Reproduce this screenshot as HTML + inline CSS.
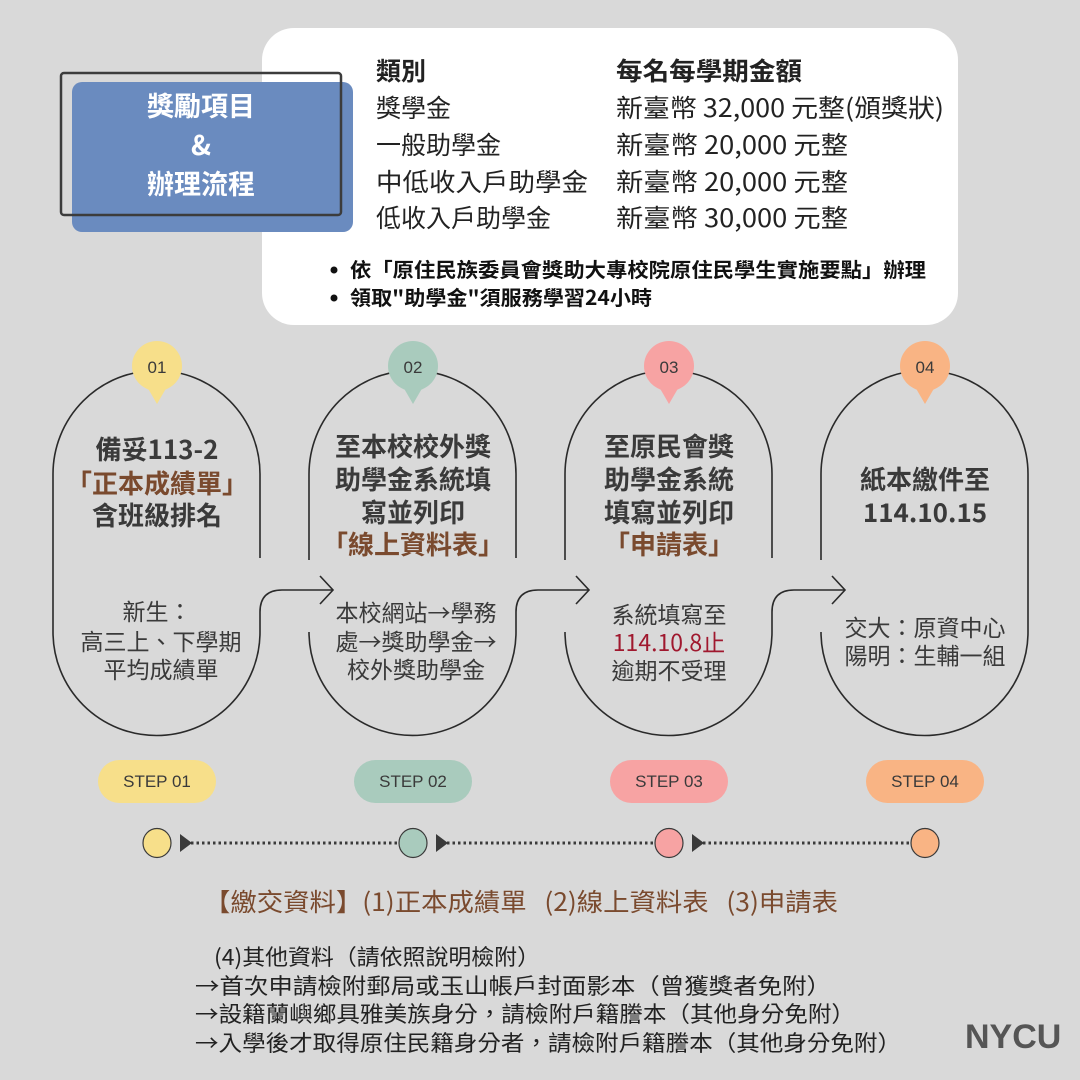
<!DOCTYPE html>
<html><head><meta charset="utf-8"><style>
html,body{margin:0;padding:0;background:#d9d9d9;}
svg{display:block;}
text{font-family:"Noto Sans CJK TC","Liberation Sans",sans-serif;}
.l{font-family:"Liberation Sans","Noto Sans CJK TC",sans-serif;}
</style></head><body>
<svg width="1080" height="1080" viewBox="0 0 1080 1080" xmlns="http://www.w3.org/2000/svg">
<rect width="1080" height="1080" fill="#d9d9d9"/>
<rect x="262" y="28" width="696" height="297" rx="32" fill="#ffffff"/>
<rect x="72" y="82" width="281" height="150" rx="10" fill="#6a8bbf"/>
<rect x="61" y="73" width="280" height="142" rx="3" fill="none" stroke="#3c3c3c" stroke-width="2.5"/>
<g fill="#fff" font-weight="bold" font-size="27" text-anchor="middle">
<text x="201" y="116">獎勵項目</text><text x="201" y="155">&amp;</text><text x="201" y="194">辦理流程</text>
</g>
<g fill="#222" font-size="25">
<text x="376" y="80" font-weight="bold">類別</text><text x="616" y="80" font-weight="bold" textLength="186" lengthAdjust="spacingAndGlyphs">每名每學期金額</text>
<text x="376" y="117">獎學金</text><text x="616" y="117" textLength="328" lengthAdjust="spacingAndGlyphs">新臺幣 32,000 元整(頒獎狀)</text>
<text x="376" y="154">一般助學金</text><text x="616" y="154" textLength="232" lengthAdjust="spacingAndGlyphs">新臺幣 20,000 元整</text>
<text x="376" y="191" textLength="212" lengthAdjust="spacingAndGlyphs">中低收入戶助學金</text><text x="616" y="191" textLength="232" lengthAdjust="spacingAndGlyphs">新臺幣 20,000 元整</text>
<text x="376" y="227">低收入戶助學金</text><text x="616" y="227" textLength="232" lengthAdjust="spacingAndGlyphs">新臺幣 30,000 元整</text>
</g>
<g fill="#111" font-size="20" font-weight="bold">
<circle cx="334" cy="270" r="3.5"/><circle cx="334" cy="298" r="3.5"/>
<text x="350" y="277" textLength="576" lengthAdjust="spacingAndGlyphs">依「原住民族委員會獎助大專校院原住民學生實施要點」辦理</text>
<text x="350" y="305" textLength="302" lengthAdjust="spacingAndGlyphs">領取"助學金"須服務學習24小時</text>
</g>
<g fill="none" stroke="#2a2a2a" stroke-width="1.6">
<path d="M260 558 L260 474 A103.5 103.5 0 0 0 53 474 L53 632 A103.5 103.5 0 0 0 260 632 L260 612 Q260 590 282 590 L333 590"/>
<path d="M320 576 L333 590 L320 604"/>
<path d="M309 560 L309 474 A103.5 103.5 0 0 1 516 474 L516 558"/>
<path d="M309 632 A103.5 103.5 0 0 0 516 632 L516 612 Q516 590 538 590 L589 590"/>
<path d="M576 576 L589 590 L576 604"/>
<path d="M565 560 L565 474 A103.5 103.5 0 0 1 772 474 L772 558"/>
<path d="M565 632 A103.5 103.5 0 0 0 772 632 L772 612 Q772 590 794 590 L845 590"/>
<path d="M832 576 L845 590 L832 604"/>
<path d="M821 560 L821 474 A103.5 103.5 0 0 1 1028 474 L1028 632 A103.5 103.5 0 0 1 821 632"/>
</g>
<g>
<circle cx="157" cy="366" r="25" fill="#f7df8a"/><path d="M146 385 L157 404 L168 385Z" fill="#f7df8a"/>
<circle cx="413" cy="366" r="25" fill="#a9cbbd"/><path d="M402 385 L413 404 L424 385Z" fill="#a9cbbd"/>
<circle cx="669" cy="366" r="25" fill="#f7a3a3"/><path d="M658 385 L669 404 L680 385Z" fill="#f7a3a3"/>
<circle cx="925" cy="366" r="25" fill="#f9b484"/><path d="M914 385 L925 404 L936 385Z" fill="#f9b484"/>
</g>
<g fill="#3a3a3a" font-size="17" text-anchor="middle" class="l">
<text class="l" x="157" y="373">01</text><text class="l" x="413" y="373">02</text><text class="l" x="669" y="373">03</text><text class="l" x="925" y="373">04</text>
</g>
<g font-size="26" font-weight="bold" text-anchor="middle" fill="#3a3a3a">
<text x="157" y="459">備妥113-2</text>
<text x="157" y="493" fill="#7a4a2e">「正本成績單」</text>
<text x="157" y="525">含班級排名</text>
<text x="413" y="456">至本校校外獎</text>
<text x="413" y="489">助學金系統填</text>
<text x="413" y="522">寫並列印</text>
<text x="413" y="554" fill="#7a4a2e">「線上資料表」</text>
<text x="669" y="456">至原民會獎</text>
<text x="669" y="489">助學金系統</text>
<text x="669" y="522">填寫並列印</text>
<text x="669" y="554" fill="#7a4a2e">「申請表」</text>
<text x="925" y="489">紙本繳件至</text>
<text x="925" y="522">114.10.15</text>
</g>
<g font-size="23" text-anchor="middle" fill="#3a3a3a">
<text x="157" y="620">新生：</text><text x="161" y="650">高三上、下學期</text><text x="161" y="678">平均成績單</text>
<text x="416" y="621">本校網站→學務</text><text x="416" y="650">處→獎助學金→</text><text x="416" y="678">校外獎助學金</text>
<text x="669" y="623">系統填寫至</text><text x="669" y="651" fill="#a0182e">114.10.8止</text><text x="669" y="679">逾期不受理</text>
<text x="925" y="636">交大：原資中心</text><text x="925" y="664">陽明：生輔一組</text>
</g>
<g>
<rect x="98" y="760" width="118" height="43" rx="21.5" fill="#f7df8a"/>
<rect x="354" y="760" width="118" height="43" rx="21.5" fill="#a9cbbd"/>
<rect x="610" y="760" width="118" height="43" rx="21.5" fill="#f7a3a3"/>
<rect x="866" y="760" width="118" height="43" rx="21.5" fill="#f9b484"/>
</g>
<g font-size="17" text-anchor="middle" fill="#3a3a3a">
<text class="l" x="157" y="787">STEP 01</text><text class="l" x="413" y="787">STEP 02</text><text class="l" x="669" y="787">STEP 03</text><text class="l" x="925" y="787">STEP 04</text>
</g>
<g stroke="#3a3a3a" stroke-width="3" stroke-dasharray="2.5 3">
<line x1="180" y1="843" x2="398" y2="843"/><line x1="436" y1="843" x2="654" y2="843"/><line x1="692" y1="843" x2="910" y2="843"/>
</g>
<g fill="#3a3a3a">
<path d="M180 834 L192 843 L180 852Z"/><path d="M436 834 L448 843 L436 852Z"/><path d="M692 834 L704 843 L692 852Z"/>
</g>
<g stroke="#3a3a3a" stroke-width="1.2">
<ellipse cx="157" cy="843" rx="14" ry="14.5" fill="#f7df8a"/>
<ellipse cx="413" cy="843" rx="14" ry="14.5" fill="#a9cbbd"/>
<ellipse cx="669" cy="843" rx="14" ry="14.5" fill="#f7a3a3"/>
<ellipse cx="925" cy="843" rx="14" ry="14.5" fill="#f9b484"/>
</g>
<text x="204" y="911" font-size="25" fill="#7a4a2e" xml:space="preserve" textLength="634" lengthAdjust="spacingAndGlyphs">【繳交資料】(1)正本成績單   (2)線上資料表   (3)申請表</text>
<g font-size="22" fill="#222">
<text x="214" y="965" textLength="326" lengthAdjust="spacingAndGlyphs">(4)其他資料（請依照說明檢附）</text>
<text x="195" y="994" textLength="636" lengthAdjust="spacingAndGlyphs">→首次申請檢附郵局或玉山帳戶封面影本（曾獲獎者免附）</text>
<text x="195" y="1022" textLength="660" lengthAdjust="spacingAndGlyphs">→設籍蘭嶼鄉具雅美族身分，請檢附戶籍謄本（其他身分免附）</text>
<text x="195" y="1051" textLength="706" lengthAdjust="spacingAndGlyphs">→入學後才取得原住民籍身分者，請檢附戶籍謄本（其他身分免附）</text>
</g>
<text class="l" x="965" y="1048" font-size="34" font-weight="bold" fill="#555">NYCU</text>
</svg>
</body></html>
